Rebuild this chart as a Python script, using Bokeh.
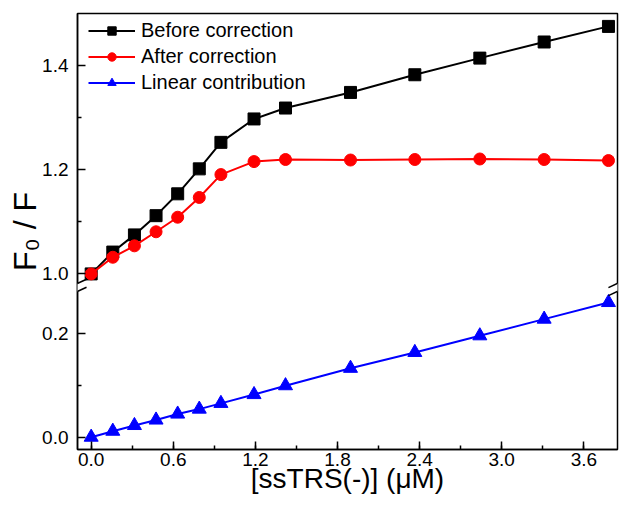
from bokeh.plotting import figure
from bokeh.embed import file_html
from bokeh.resources import INLINE
from bokeh.models import (Range1d, FixedTicker, SingleIntervalTicker, PrintfTickFormatter,
                          CustomJSTickFormatter, Legend, LegendItem, Arrow)

# ssTRS(-) concentration (uM)
conc = [0.0, 0.158, 0.316, 0.474, 0.632, 0.79, 0.948, 1.19, 1.42, 1.895, 2.365, 2.84, 3.31, 3.78]
# F0/F before correction
before = [1.000, 1.042, 1.075, 1.112, 1.154, 1.202, 1.253, 1.298, 1.319, 1.349, 1.383, 1.415, 1.446, 1.476]
# F0/F after correction
after = [1.000, 1.032, 1.054, 1.081, 1.109, 1.147, 1.191, 1.216, 1.220, 1.219, 1.220, 1.221, 1.220, 1.218]
# linear contribution
linear = [0.000, 0.0115, 0.0225, 0.033, 0.0445, 0.054, 0.065, 0.082, 0.099, 0.1325, 0.163, 0.195, 0.227, 0.259]

x_ticks_interval = 0.6
y_lower_ticks = [0.0, 0.2]
y_lower_minor = [0.1]
y_upper_ticks = [1.0, 1.2, 1.4]
y_upper_minor = [1.1, 1.3]

# broken y axis: lower segment shown as is, upper segment shifted down by SHIFT
SHIFT = 0.686
BRK = 0.288          # display value where the axis is broken
X0, X1 = -0.1, 3.846
Y0, Y1 = -0.0237, 0.8148

FONT = "Liberation Sans"

p = figure(width=625, height=506, output_backend="svg", toolbar_location=None,
           x_range=Range1d(X0, X1), y_range=Range1d(Y0, Y1),
           min_border_left=77, min_border_right=8, min_border_top=13, min_border_bottom=57)
p.extra_y_ranges = {"upper": Range1d(Y0 + SHIFT, Y1 + SHIFT)}

p.xgrid.visible = False
p.ygrid.visible = False
p.outline_line_color = "black"
p.outline_line_width = 1.5
p.outline_line_alpha = 1.0
p.background_fill_color = "white"
p.border_fill_color = "white"

# x axis
xa = p.xaxis[0]
xa.ticker = SingleIntervalTicker(interval=x_ticks_interval, num_minor_ticks=2)
xa.formatter = PrintfTickFormatter(format="%.1f")
xa.axis_label = "[ssTRS(-)] (\u03bcM)"
xa.axis_label_text_font_size = "28px"
xa.axis_label_standoff = -6
xa.major_label_standoff = 3

# y axis with break
ya = p.yaxis[0]
ya.ticker = FixedTicker(ticks=y_lower_ticks + [t - SHIFT for t in y_upper_ticks],
                        minor_ticks=y_lower_minor + [t - SHIFT for t in y_upper_minor])
ya.formatter = CustomJSTickFormatter(args=dict(shift=SHIFT, brk=BRK),
                                     code="const v = tick > brk ? tick + shift : tick; return v.toFixed(1);")
ya.major_label_standoff = 9
ya.axis_label = "F\u2080 / F"
ya.axis_label_text_font_size = "32px"
ya.axis_label_standoff = -4

for ax in (xa, ya):
    ax.axis_label_text_font = FONT
    ax.axis_label_text_font_style = "normal"
    ax.axis_label_text_color = "black"
    ax.axis_line_width = 1.5
    ax.axis_line_color = "black"
    ax.major_tick_in = 8
    ax.major_tick_out = 0
    ax.minor_tick_in = 4
    ax.minor_tick_out = 0
    ax.major_tick_line_width = 1.5
    ax.minor_tick_line_width = 1.5
    ax.major_tick_line_color = "black"
    ax.minor_tick_line_color = "black"
    ax.major_label_text_font = FONT
    ax.major_label_text_font_size = "19px"
    ax.major_label_text_color = "black"

# series
l1 = p.line(conc, before, line_color="black", line_width=2, y_range_name="upper")
s1 = p.scatter(conc, before, marker="square", size=12, fill_color="black", line_color="black",
               y_range_name="upper")
l2 = p.line(conc, after, line_color="#ff0000", line_width=2, y_range_name="upper")
s2 = p.scatter(conc, after, marker="circle", size=12, fill_color="#ff0000", line_color="#ff0000",
               y_range_name="upper")
l3 = p.line(conc, linear, line_color="#0000ff", line_width=2)
s3 = p.scatter(conc, linear, marker="triangle", size=14, fill_color="#0000ff", line_color="#0000ff")

# break marks on left and right axes: a white gap in the axis and two slashes
dy = 0.0077
dxm, dym = 0.066, 0.008
for xb in (X0, X1):
    p.add_layout(Arrow(end=None, x_start=xb, y_start=BRK - dy, x_end=xb, y_end=BRK + dy,
                       line_color="white", line_width=4, level="overlay"))
    for off in (dy, -dy):
        p.add_layout(Arrow(end=None, x_start=xb - dxm, y_start=BRK + off - dym,
                           x_end=xb + dxm, y_end=BRK + off + dym,
                           line_color="black", line_width=1.5, level="overlay"))

legend = Legend(items=[LegendItem(label="Before correction", renderers=[l1, s1]),
                       LegendItem(label="After correction", renderers=[l2, s2]),
                       LegendItem(label="Linear contribution", renderers=[l3, s3])],
                location=(11, 355))
legend.label_text_font = FONT
legend.label_text_font_size = "20px"
legend.label_text_color = "black"
legend.glyph_width = 47
legend.glyph_height = 21
legend.label_height = 21
legend.spacing = 3
legend.label_standoff = 6
legend.padding = 0
legend.margin = 0
legend.border_line_color = None
legend.background_fill_alpha = 0
p.add_layout(legend)

open("out.html", "w").write(file_html(p, INLINE))
